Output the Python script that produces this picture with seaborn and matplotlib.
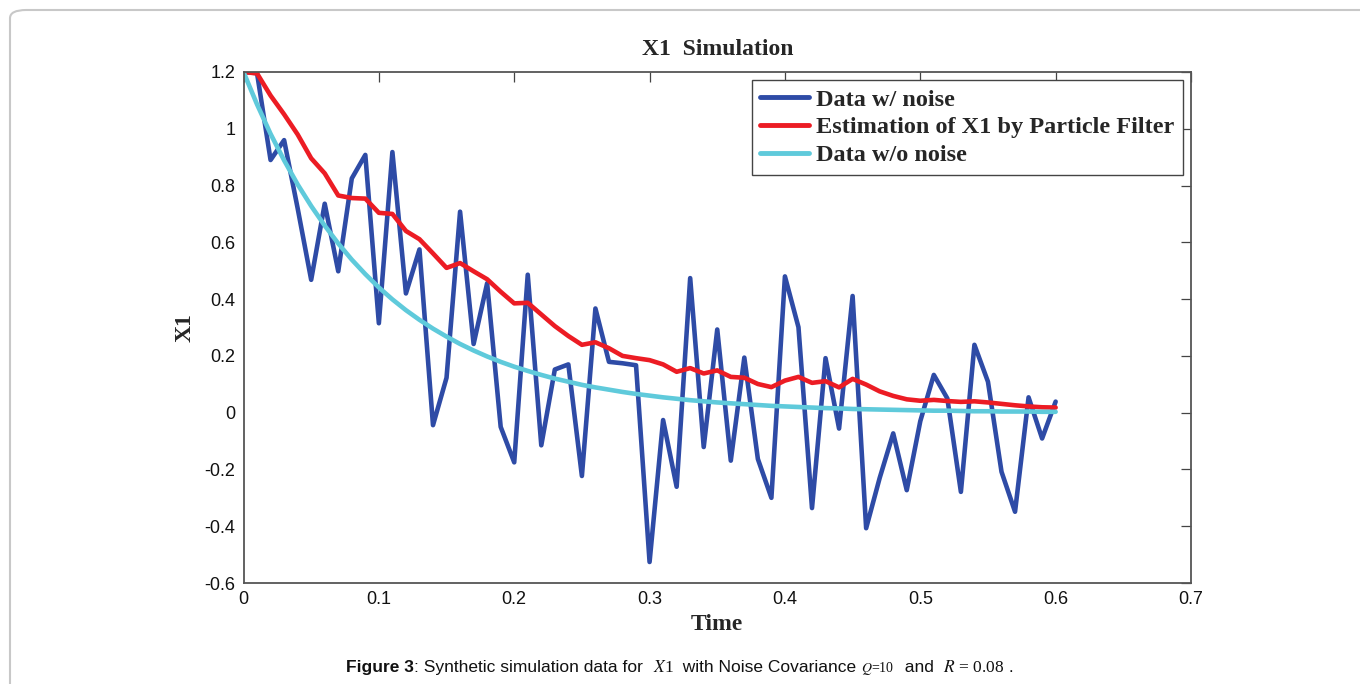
import numpy as np
import pandas as pd
import matplotlib
matplotlib.use("Agg")
import matplotlib.pyplot as plt
import seaborn as sns
from matplotlib.patches import FancyBboxPatch

# ---------------- data ----------------
time = [round(0.01 * k, 2) for k in range(61)]

data_noise = [1.200, 1.196, 0.890, 0.960, 0.720, 0.468, 0.736, 0.498, 0.825, 0.908,
              0.315, 0.918, 0.420, 0.575, -0.044, 0.123, 0.708, 0.242, 0.456, -0.050,
              -0.175, 0.486, -0.115, 0.152, 0.170, -0.223, 0.367, 0.179, 0.174, 0.167,
              -0.526, -0.026, -0.261, 0.474, -0.121, 0.293, -0.169, 0.194, -0.163, -0.300,
              0.480, 0.301, -0.336, 0.192, -0.056, 0.411, -0.407, -0.230, -0.073, -0.273,
              -0.030, 0.133, 0.050, -0.279, 0.239, 0.109, -0.208, -0.349, 0.054, -0.091,
              0.039]

estimate = [1.200, 1.195, 1.117, 1.051, 0.980, 0.896, 0.843, 0.765, 0.756, 0.754,
            0.704, 0.700, 0.640, 0.611, 0.561, 0.510, 0.527, 0.498, 0.470, 0.426,
            0.385, 0.387, 0.346, 0.305, 0.270, 0.239, 0.248, 0.227, 0.200, 0.192,
            0.185, 0.170, 0.144, 0.157, 0.138, 0.149, 0.126, 0.123, 0.101, 0.090,
            0.113, 0.126, 0.105, 0.111, 0.089, 0.119, 0.099, 0.075, 0.059, 0.047,
            0.042, 0.045, 0.041, 0.038, 0.040, 0.036, 0.031, 0.026, 0.022, 0.019,
            0.018]

data_clean = [1.200, 1.086, 0.982, 0.889, 0.804, 0.728, 0.659, 0.596, 0.539, 0.488,
              0.441, 0.399, 0.361, 0.327, 0.296, 0.268, 0.242, 0.219, 0.198, 0.179,
              0.162, 0.147, 0.133, 0.120, 0.109, 0.098, 0.089, 0.081, 0.073, 0.066,
              0.060, 0.054, 0.049, 0.044, 0.040, 0.036, 0.033, 0.030, 0.027, 0.024,
              0.022, 0.020, 0.018, 0.016, 0.015, 0.013, 0.012, 0.011, 0.010, 0.009,
              0.008, 0.007, 0.007, 0.006, 0.005, 0.005, 0.004, 0.004, 0.004, 0.003,
              0.003]

series_names = ["Data w/ noise", "Estimation of X1 by Particle Filter", "Data w/o noise"]
series_colors = ["#2E4BA6", "#EC1C24", "#5FCADB"]

x_ticks = [0, 0.1, 0.2, 0.3, 0.4, 0.5, 0.6, 0.7]
x_tick_labels = ["0", "0.1", "0.2", "0.3", "0.4", "0.5", "0.6", "0.7"]
y_ticks = [-0.6, -0.4, -0.2, 0, 0.2, 0.4, 0.6, 0.8, 1.0, 1.2]
y_tick_labels = ["-0.6", "-0.4", "-0.2", "0", "0.2", "0.4", "0.6", "0.8", "1", "1.2"]

df = pd.DataFrame({
    "Time": time * 3,
    "X1": data_noise + estimate + data_clean,
    "series": [series_names[0]] * 61 + [series_names[1]] * 61 + [series_names[2]] * 61,
})

# ---------------- style ----------------
sns.set_theme(style="white")
plt.rcParams["font.family"] = ["Liberation Sans", "DejaVu Sans"]

W, H = 1360, 684
fig = plt.figure(figsize=(W / 100, H / 100), dpi=100)
fig.patch.set_facecolor("white")

# frame around figure (left/top edges visible)
frame = FancyBboxPatch((10 / W, -0.2), 1.5, 1.2 - 10 / H,
                       boxstyle="round,pad=0,rounding_size=0.012",
                       transform=fig.transFigure, facecolor="none",
                       edgecolor="#C8C8C8", linewidth=1.5, zorder=0)
fig.patches.append(frame)

ax_l, ax_r, ax_t, ax_b = 243.5, 1191, 72, 583
ax = fig.add_axes([ax_l / W, 1 - ax_b / H, (ax_r - ax_l) / W, (ax_b - ax_t) / H])

sns.lineplot(data=df, x="Time", y="X1", hue="series", hue_order=series_names,
             palette=series_colors, linewidth=3.3, ax=ax, estimator=None, sort=False)

ax.set_xlim(0, 0.7)
ax.set_ylim(-0.6, 1.2)
ax.set_xticks(x_ticks)
ax.set_xticklabels(x_tick_labels)
ax.set_yticks(y_ticks)
ax.set_yticklabels(y_tick_labels)
ax.tick_params(direction="in", length=7, width=0.9, color="#444444",
               top=True, right=True, labelsize=13, labelcolor="#111111", pad=6)
for sp in ax.spines.values():
    sp.set_color("#555555")
    sp.set_linewidth(1.3)

serif = ["Liberation Serif", "DejaVu Serif"]
ax.set_xlabel("Time", fontsize=17, fontweight="bold", family=serif, labelpad=4)
ax.set_ylabel("X1", fontsize=17, fontweight="bold", family=serif, labelpad=6)
ax.set_title("X1  Simulation", fontsize=17, fontweight="bold", family=serif, pad=12)

leg = ax.legend(loc="upper right", bbox_to_anchor=(1 - 8 / (ax_r - ax_l), 1 - 8 / (ax_b - ax_t)),
                prop={"family": serif, "weight": "bold", "size": 17.5},
                frameon=True, fancybox=False, framealpha=1, edgecolor="#444444",
                borderpad=0.35, labelspacing=0.24, handlelength=2.0, handletextpad=0.3,
                borderaxespad=0)
leg.get_frame().set_linewidth(1.0)
for line in leg.get_lines():
    line.set_linewidth(3.5)

# ---------------- caption ----------------
fig.canvas.draw()
renderer = fig.canvas.get_renderer()
pieces = [
    ("Figure 3", dict(family=["Liberation Sans"], weight="bold", size=12.5)),
    (": Synthetic simulation data for  ", dict(family=["Liberation Sans"], size=12.5)),
    ("$X$1", dict(family=serif, size=12.5, math_fontfamily="stix")),
    ("  with Noise Covariance ", dict(family=["Liberation Sans"], size=12.5)),
    ("$Q$=10", dict(family=serif, size=10, math_fontfamily="stix")),
    ("  and  ", dict(family=["Liberation Sans"], size=12.5)),
    ("$R$ = 0.08", dict(family=serif, size=12.5, math_fontfamily="stix")),
    (" .", dict(family=["Liberation Sans"], size=12.5)),
]
texts = []
widths = []
for s, kw in pieces:
    t = fig.text(0, 0, s, va="baseline", ha="left", color="#111111", **kw)
    bb = t.get_window_extent(renderer)
    texts.append(t)
    widths.append(bb.width)
total = sum(widths)
x0 = 680 - total / 2
base_y = 1 - 672 / H
for t, w in zip(texts, widths):
    t.set_position((x0 / W, base_y))
    x0 += w

fig.savefig("out.png", dpi=100)
